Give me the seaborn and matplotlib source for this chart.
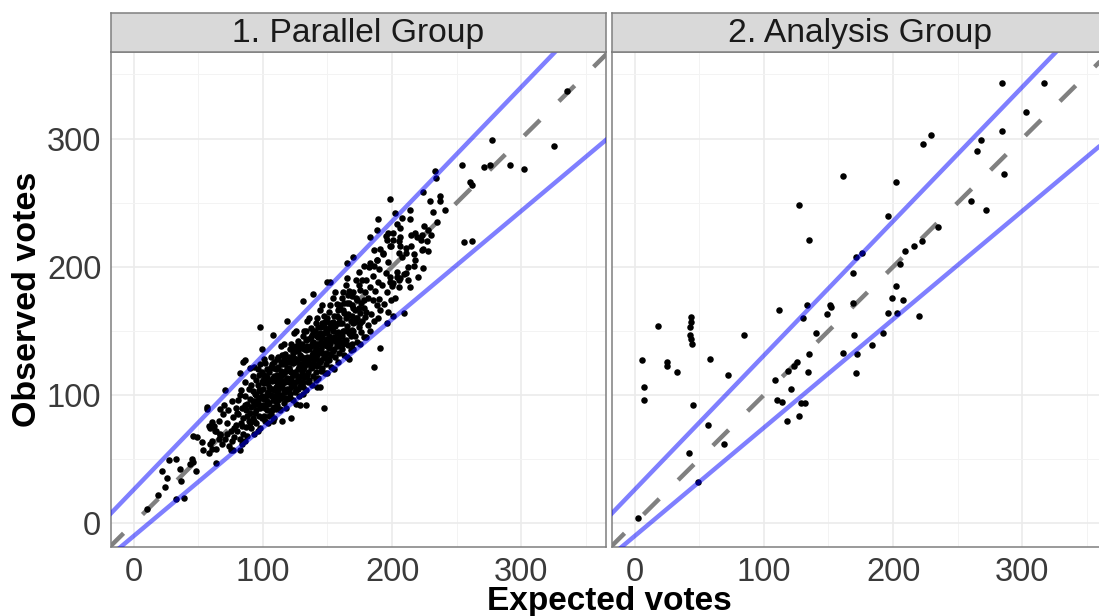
import matplotlib
matplotlib.use("Agg")
import matplotlib.pyplot as plt
import seaborn as sns
import pandas as pd

sns.set_theme(style="white")
plt.rcParams['font.family'] = ['Liberation Sans', 'DejaVu Sans']

# ---------------- data ----------------
panel_titles = ["1. Parallel Group", "2. Analysis Group"]
x_ticks = [0, 100, 200, 300]
y_ticks = [0, 100, 200, 300]
x_label = "Expected votes"
y_label = "Observed votes"

# bounds (same in both panels) and identity line
bound_x = [-20, 380]
upper_y = [5.2, 424.0]
lower_y = [-26.9, 311.2]
diag_x = [-20, 380]
diag_y = [-20, 380]

# Parallel group: edge / outlying points
par_edge_x = [277, 325, 335, 254, 271, 276, 291, 302, 260, 262,
              256, 262, 233, 224, 229, 237, 237, 232, 241, 198,
              214, 202, 208, 189, 235, 228, 223, 218, 224, 217,
              211, 206, 224, 217, 211, 205, 201, 196, 201, 206,
              188, 183, 170, 165, 152, 234, 225, 204, 206, 197,
              195, 215, 219, 222, 227, 223, 215, 205, 198, 211,
              205, 208, 186, 191, 193, 188, 183, 178, 186, 212,
              204, 206, 198, 201, 205, 214, 98, 186, 191, 147,
              129, 133, 122, 115, 209, 201, 196, 180, 175, 170,
              165, 155, 150, 142, 131, 113, 108, 82, 77, 57,
              71, 85, 82, 93, 108, 119, 131, 139, 150, 99,
              86, 90, 144, 126, 10, 19, 33, 39, 24, 37,
              26, 22, 36, 27, 33, 45, 46, 44, 48, 64,
              46, 49, 53, 59, 58, 61, 54, 57, 70, 67,
              61, 58, 59, 64, 67, 66, 75]
par_edge_y = [299, 294, 337, 279, 278, 279, 279, 276, 266, 264,
              219, 220, 275, 258, 251, 255, 251, 243, 244, 253,
              244, 242, 238, 237, 235, 229, 225, 226, 214, 210,
              215, 216, 199, 201, 195, 190, 226, 221, 221, 223,
              229, 223, 208, 203, 188, 269, 232, 233, 230, 226,
              224, 225, 223, 221, 220, 213, 216, 220, 216, 211,
              211, 208, 213, 214, 211, 205, 203, 201, 201, 190,
              196, 191, 192, 187, 184, 237, 153, 122, 137, 90,
              92, 92, 82, 80, 164, 162, 156, 145, 140, 136,
              130, 120, 117, 106, 101, 89, 80, 57, 57, 89,
              104, 126, 117, 122, 147, 158, 173, 179, 188, 136,
              127, 121, 106, 93, 11, 22, 19, 20, 28, 33,
              35, 41, 42, 49, 50, 50, 48, 46, 41, 47,
              68, 67, 63, 62, 55, 58, 57, 91, 92, 89,
              79, 76, 74, 72, 70, 66, 57]

# Parallel group: dense core of the cloud
par_core_x = [61, 63, 64, 66, 67, 68, 69, 62,
              71, 72, 73, 74, 75, 76, 77, 78, 79, 72, 76, 79,
              80, 81, 81, 82, 83, 83, 84, 85, 85, 86, 86, 87, 87, 88, 88, 89, 89, 84, 82, 86,
              90, 90, 91, 91, 92, 92, 93, 93, 94, 94, 95, 95, 96, 96, 97, 97, 98, 98, 99, 99,
              91, 93, 95, 97, 99, 92, 94, 96, 98, 90,
              100, 100, 101, 101, 102, 102, 103, 103, 104, 104, 105, 105, 106, 106, 107, 107, 108, 108, 109, 109,
              100, 101, 102, 103, 104, 105, 106, 107, 108, 109, 101, 103, 105, 107, 109,
              110, 110, 111, 111, 112, 112, 113, 113, 114, 114, 115, 115, 116, 116, 117, 117, 118, 118, 119, 119,
              110, 111, 112, 113, 114, 115, 116, 117, 118, 119, 110, 112, 114, 116, 118,
              120, 120, 121, 121, 122, 122, 123, 123, 124, 124, 125, 125, 126, 126, 127, 127, 128, 128, 129, 129,
              120, 121, 122, 123, 124, 125, 126, 127, 128, 129, 121, 123, 125, 127, 129,
              130, 130, 131, 131, 132, 132, 133, 133, 134, 134, 135, 135, 136, 136, 137, 137, 138, 138, 139, 139,
              130, 131, 132, 133, 134, 135, 136, 137, 138, 139, 131, 133, 135, 137, 139,
              140, 140, 141, 141, 142, 142, 143, 143, 144, 144, 145, 145, 146, 146, 147, 147, 148, 148, 149, 149,
              140, 141, 142, 143, 144, 145, 146, 147, 148, 149, 141, 143, 145, 147, 149,
              150, 150, 151, 151, 152, 152, 153, 153, 154, 154, 155, 155, 156, 156, 157, 157, 158, 158, 159, 159,
              150, 151, 152, 153, 154, 155, 156, 157, 158, 159,
              160, 160, 161, 161, 162, 162, 163, 163, 164, 164, 165, 165, 166, 166, 167, 167, 168, 168, 169, 169,
              161, 163, 165, 167, 169,
              170, 170, 171, 171, 172, 172, 173, 173, 174, 174, 175, 175, 176, 176, 177, 177, 178, 178, 179, 179,
              180, 180, 181, 181, 182, 183, 183, 184, 185, 185, 186, 187, 188, 188, 189, 189,
              190, 190, 191, 192, 193, 194, 195, 196, 197, 197, 198, 199, 199,
              200, 202, 204, 209, 212, 214, 218, 220, 228, 230]
par_core_y = [64, 72, 58, 80, 69, 62, 85, 76,
              66, 78, 88, 60, 72, 95, 83, 67, 90, 70, 64, 77,
              72, 85, 96, 66, 78, 104, 90, 70, 82, 99, 110, 75, 88, 93, 68, 80, 105, 62, 100, 64,
              86, 97, 74, 108, 82, 115, 92, 70, 101, 86, 78, 112, 95, 120, 84, 104, 74, 90, 110, 99,
              91, 80, 88, 116, 82, 103, 95, 72, 124, 78,
              92, 105, 84, 116, 98, 125, 88, 109, 78, 102, 94, 118, 85, 130, 99, 111, 90, 121, 104, 82,
              112, 97, 80, 120, 93, 106, 100, 88, 113, 96, 128, 101, 84, 124, 115,
              100, 120, 92, 110, 130, 104, 88, 115, 98, 138, 108, 124, 94, 117, 102, 132, 112, 90, 121, 105,
              111, 128, 96, 106, 119, 100, 140, 110, 126, 97, 89, 114, 108, 128, 104,
              110, 130, 101, 119, 140, 113, 96, 125, 108, 148, 118, 134, 104, 127, 113, 142, 122, 99, 131, 115,
              121, 136, 106, 116, 129, 110, 150, 120, 137, 107, 98, 133, 102, 128, 124,
              118, 140, 110, 128, 150, 122, 104, 135, 116, 158, 127, 144, 112, 136, 121, 152, 131, 108, 141, 124,
              130, 146, 114, 125, 138, 118, 160, 129, 147, 115, 106, 143, 110, 138, 133,
              128, 150, 118, 137, 160, 131, 113, 145, 126, 166, 136, 153, 121, 145, 130, 162, 140, 117, 151, 133,
              139, 156, 123, 134, 148, 127, 170, 139, 157, 124, 112, 153, 119, 148, 143,
              138, 160, 127, 146, 170, 140, 122, 155, 134, 176, 145, 162, 130, 154, 139, 171, 149, 126, 160, 142,
              149, 165, 132, 143, 157, 136, 180, 148, 166, 133,
              146, 170, 136, 156, 180, 150, 131, 164, 143, 186, 154, 172, 139, 163, 148, 181, 158, 135, 170, 151,
              176, 142, 191, 128, 162,
              156, 180, 146, 166, 190, 160, 141, 174, 153, 196, 164, 182, 149, 172, 158, 190, 168, 145, 180, 161,
              165, 190, 155, 176, 200, 150, 184, 163, 174, 193, 158, 181, 170, 205, 160, 188,
              175, 198, 166, 186, 210, 171, 195, 180, 165, 204, 188, 174, 216,
              185, 176, 192, 194, 200, 184, 205, 192, 212, 225]

# Parallel group: extra points filling the densest part of the cloud
par_fill_x = [95, 96, 97, 98, 99, 100, 101, 102, 103, 104,
              105, 106, 107, 108, 109, 110, 111, 112, 113, 114,
              115, 116, 117, 118, 119, 120, 121, 122, 123, 124,
              125, 126, 127, 128, 129, 130, 131, 132, 133, 134,
              135, 136, 137, 138, 139, 140, 141, 142, 143, 144,
              145, 146, 147, 148, 149, 150, 151, 152, 153, 154,
              155, 156, 157, 158, 159, 160, 161, 162, 163, 164,
              165, 166, 167, 168, 169, 170, 171, 172, 173, 174,
              102, 106, 110, 114, 118, 122, 126, 130, 134, 138,
              142, 146, 150, 154, 158, 162, 166, 170, 174, 178,
              97, 103, 109, 115, 121, 127, 133, 139, 145, 151,
              157, 163, 169, 175, 88, 92, 86, 84, 80, 78]
par_fill_y = [100, 108, 92, 103, 118, 98, 109, 114, 95, 110,
              100, 122, 105, 96, 126, 106, 116, 122, 100, 126,
              116, 104, 124, 119, 113, 104, 126, 118, 108, 136,
              126, 116, 134, 111, 139, 124, 120, 136, 115, 130,
              137, 124, 145, 122, 150, 134, 128, 146, 124, 140,
              146, 133, 154, 129, 158, 144, 137, 156, 131, 150,
              154, 142, 162, 138, 168, 156, 146, 166, 150, 160,
              162, 150, 172, 146, 177, 168, 157, 176, 160, 168,
              90, 112, 95, 112, 98, 128, 138, 110, 124, 140,
              140, 156, 128, 144, 156, 140, 178, 150, 186, 174,
              98, 114, 91, 131, 112, 105, 150, 128, 141, 152,
              144, 172, 140, 156, 84, 95, 92, 76, 86, 74]

# Analysis group
ana_x = [112, 133, 130, 18, 43.5, 43.5, 43, 43, 43.5, 44.5,
         85, 6, 25, 25, 33, 58, 72, 7.5, 7, 45,
         57, 69, 42, 49, 3, 135, 126, 123, 119, 134,
         109, 121, 110, 114, 129, 132, 127, 118, 161, 202,
         127, 196, 135, 235, 222, 216, 209, 171, 176, 205,
         169, 202, 199, 207.5, 196, 203, 220, 169, 151.5, 152.3,
         149, 140, 170, 192, 184, 161, 172, 171, 284, 317,
         303, 229, 223.5, 284, 268, 265, 286, 260.5, 272]
ana_y = [166, 170, 160, 154, 161, 157, 153, 147, 144, 140,
         147, 127, 126, 123, 118, 128, 116, 106, 96, 92,
         77, 62, 55, 32, 4, 132, 126, 123, 119, 118,
         112, 105, 96, 94.5, 94, 94, 84, 80, 271, 266,
         248, 240, 221, 231, 220, 216, 212, 208, 211, 202,
         195, 185, 176, 174, 164, 164, 162, 172, 170, 169,
         163, 148, 147, 148, 139, 133, 132, 117.5, 343, 343,
         321, 303, 296, 306, 299, 290, 272, 251, 244]

par_df = pd.DataFrame({"expected": par_edge_x + par_core_x + par_fill_x,
                       "observed": par_edge_y + par_core_y + par_fill_y})
ana_df = pd.DataFrame({"expected": ana_x, "observed": ana_y})

# ---------------- figure ----------------
W, H = 1099, 616
fig = plt.figure(figsize=(W / 100, H / 100), dpi=100)


def rect(l, t, r, b):
    return [l / W, 1 - b / H, (r - l) / W, (b - t) / H]


border = '#7f7f7f'
panels = [(panel_titles[0], par_df, 111), (panel_titles[1], ana_df, 612)]
for i, (title, df, left) in enumerate(panels):
    ax = fig.add_axes(rect(left, 52, left + 495, 547))
    ax.set_xlim(-17.5, 365.5)
    ax.set_ylim(-18.5, 367.5)
    ax.set_xticks(x_ticks)
    ax.set_yticks(y_ticks)
    ax.set_xticks([50, 150, 250, 350], minor=True)
    ax.set_yticks([50, 150, 250, 350], minor=True)
    ax.grid(which='major', color='#EBEBEB', lw=1.2)
    ax.grid(which='minor', color='#F3F3F3', lw=0.7)
    ax.set_axisbelow(True)

    ax.plot(diag_x, diag_y, color='#808080', lw=3.2, dashes=(5, 6),
            dash_capstyle='butt', zorder=2.5)
    sns.scatterplot(data=df, x="expected", y="observed", ax=ax,
                    color='black', s=22, linewidth=0, legend=False, zorder=3)
    ax.plot(bound_x, upper_y, color='blue', alpha=0.5, lw=3.2, zorder=4,
            solid_capstyle='butt')
    ax.plot(bound_x, lower_y, color='blue', alpha=0.5, lw=3.2, zorder=4,
            solid_capstyle='butt')

    ax.set_xlabel('')
    ax.set_ylabel('')
    for sp in ax.spines.values():
        sp.set_color(border)
        sp.set_linewidth(1.1)
    ax.tick_params(which='minor', length=0)
    ax.tick_params(which='major', length=4, width=1, color=border,
                   labelsize=23.5, labelcolor='#3a3a3a', pad=3)
    if i == 1:
        ax.tick_params(axis='y', left=False, labelleft=False)

    strip = fig.add_axes(rect(left, 13, left + 495, 52))
    strip.set_facecolor('#D9D9D9')
    strip.set_xticks([])
    strip.set_yticks([])
    for sp in strip.spines.values():
        sp.set_color(border)
        sp.set_linewidth(1.1)
    strip.text(0.5, 0.47, title, ha='center', va='center', fontsize=24.2,
               color='#1A1A1A', transform=strip.transAxes)

fig.text(28 / W, 1 - 299.5 / H, y_label, rotation=90, ha='center', va='center',
         fontsize=24.5, fontweight='bold', color='black')
fig.text(609.5 / W, 1 - 610 / H, x_label, ha='center', va='baseline',
         fontsize=24, fontweight='bold', color='black')

fig.savefig('out.png', dpi=100)
